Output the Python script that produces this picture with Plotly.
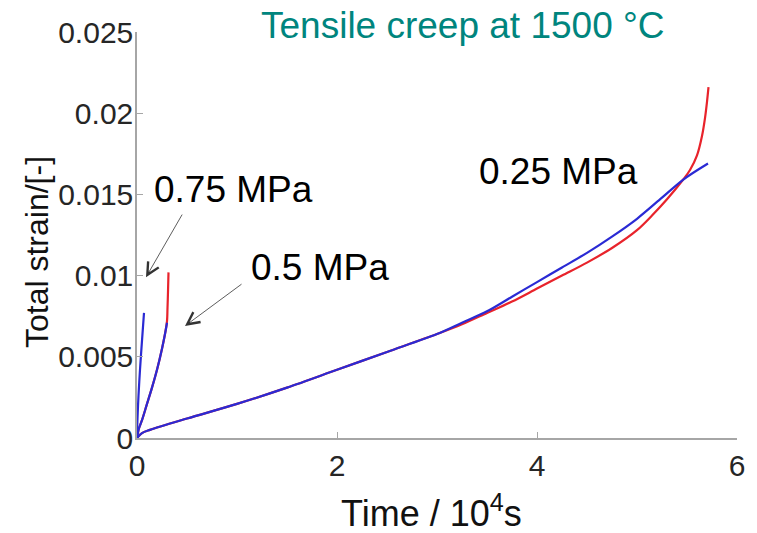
import plotly.graph_objects as go

# ---- data ----
# 0.75 MPa
t075_blue = [0.0, 0.005, 0.015, 0.03, 0.05, 0.07]
e075_blue = [0.0, 0.0012, 0.0026, 0.0042, 0.0060, 0.0077]

# 0.5 MPa
t05_red = [0.0, 0.02, 0.05, 0.10, 0.15, 0.20, 0.25, 0.28, 0.30, 0.305, 0.31, 0.315]
e05_red = [0.0, 0.0006, 0.0011, 0.0021, 0.0031, 0.0042, 0.0055, 0.0064, 0.0072, 0.0080, 0.0090, 0.0102]
t05_blue = [0.0, 0.02, 0.05, 0.10, 0.15, 0.20, 0.25, 0.28, 0.30]
e05_blue = [0.0, 0.0006, 0.0011, 0.0021, 0.0031, 0.0042, 0.0055, 0.0064, 0.0071]

# 0.25 MPa
t025_red = [0.0, 0.05, 0.13, 0.5, 1.0, 1.5, 2.0, 2.5, 3.0, 3.25, 3.5, 3.75, 4.0, 4.25, 4.5,
            4.75, 5.0, 5.15, 5.3, 5.46, 5.53, 5.6, 5.65, 5.68, 5.70, 5.715]
e025_red = [0.0, 0.0003, 0.0005, 0.0012, 0.0021, 0.0031, 0.0042, 0.0053, 0.0064, 0.0070, 0.0077,
            0.0084, 0.0092, 0.0100, 0.0108, 0.0117, 0.0128, 0.0137, 0.0147, 0.0159, 0.0165,
            0.0174, 0.0186, 0.0197, 0.0207, 0.0216]
t025_blue = [0.0, 0.05, 0.13, 0.5, 1.0, 1.5, 2.0, 2.5, 3.0, 3.25, 3.5, 3.75, 4.0, 4.25, 4.5,
             4.75, 5.0, 5.25, 5.46, 5.71]
e025_blue = [0.0, 0.0003, 0.0005, 0.0012, 0.0021, 0.0031, 0.0042, 0.0053, 0.0064, 0.0071, 0.0078,
             0.0087, 0.0096, 0.0105, 0.0114, 0.0124, 0.0135, 0.0148, 0.0159, 0.0169]

x_ticks = [0, 2, 4, 6]
y_ticks = [0, 0.005, 0.01, 0.015, 0.02, 0.025]
y_tick_labels = ["0", "0.005", "0.01", "0.015", "0.02", "0.025"]

RED = "#e8232b"
BLUE = "#2a2ad4"
AXIS = "#a6a6a6"
FONT = "Liberation Sans, Arial, sans-serif"

fig = go.Figure()
for xs, ys, c in [(t025_red, e025_red, RED), (t05_red, e05_red, RED),
                  (t025_blue, e025_blue, BLUE), (t05_blue, e05_blue, BLUE),
                  (t075_blue, e075_blue, BLUE)]:
    fig.add_trace(go.Scatter(x=xs, y=ys, mode="lines",
                             line=dict(color=c, width=2.2, shape="spline", smoothing=0.9),
                             showlegend=False, hoverinfo="skip"))

fig.update_layout(
    width=757, height=533, autosize=False,
    margin=dict(l=137, r=20, t=32, b=95),
    paper_bgcolor="white", plot_bgcolor="white",
    font=dict(family=FONT, color="#262626"),
    xaxis=dict(range=[0, 6], tickvals=x_ticks, ticktext=[str(v) for v in x_ticks],
               showgrid=False, zeroline=False, showline=True, linecolor=AXIS, linewidth=1.5,
               ticks="inside", ticklen=6, tickcolor=AXIS, tickwidth=1,
               tickfont=dict(size=30, family=FONT, color="#262626")),
    yaxis=dict(range=[0, 0.025], tickvals=y_ticks, ticktext=y_tick_labels,
               showgrid=False, zeroline=False, showline=True, linecolor=AXIS, linewidth=1.5,
               ticks="inside", ticklen=6, tickcolor=AXIS, tickwidth=1, ticklabelstandoff=-4,
               tickfont=dict(size=30, family=FONT, color="#262626")),
)

ann = []
# chart title
ann.append(dict(text="Tensile creep at 1500 °C", xref="paper", yref="paper", x=0.543, y=1.017,
                xanchor="center", yanchor="middle", showarrow=False,
                font=dict(size=37, color="#00857e", family=FONT)))
# axis titles
ann.append(dict(text="Time / 10<sup>4</sup>s", xref="paper", yref="paper", x=0.49, y=-0.18,
                xanchor="center", yanchor="middle", showarrow=False,
                font=dict(size=36, color="#111111", family=FONT)))
ann.append(dict(text="Total strain/[-]", xref="paper", yref="paper", x=-0.1667, y=0.458,
                xanchor="center", yanchor="middle", showarrow=False, textangle=-90,
                font=dict(size=32, color="#111111", family=FONT)))
# stress labels
for txt, x, y in [("0.75 MPa", 0.96, 0.0153), ("0.5 MPa", 1.83, 0.01047), ("0.25 MPa", 4.21, 0.01638)]:
    ann.append(dict(text=txt, x=x, y=y, xref="x", yref="y", showarrow=False,
                    xanchor="center", yanchor="middle",
                    font=dict(size=37, color="black", family=FONT)))
# arrows
for (hx, hy, tx, ty) in [(0.09, 0.0099, 0.46, 0.01385), (0.48, 0.0069, 1.06, 0.00954)]:
    ann.append(dict(text="", x=hx, y=hy, ax=tx, ay=ty, xref="x", yref="y", axref="x", ayref="y",
                    showarrow=True, arrowhead=5, arrowsize=3, arrowwidth=0.8, arrowcolor="#333333"))
fig.update_layout(annotations=ann)

fig.write_html("out.html")
